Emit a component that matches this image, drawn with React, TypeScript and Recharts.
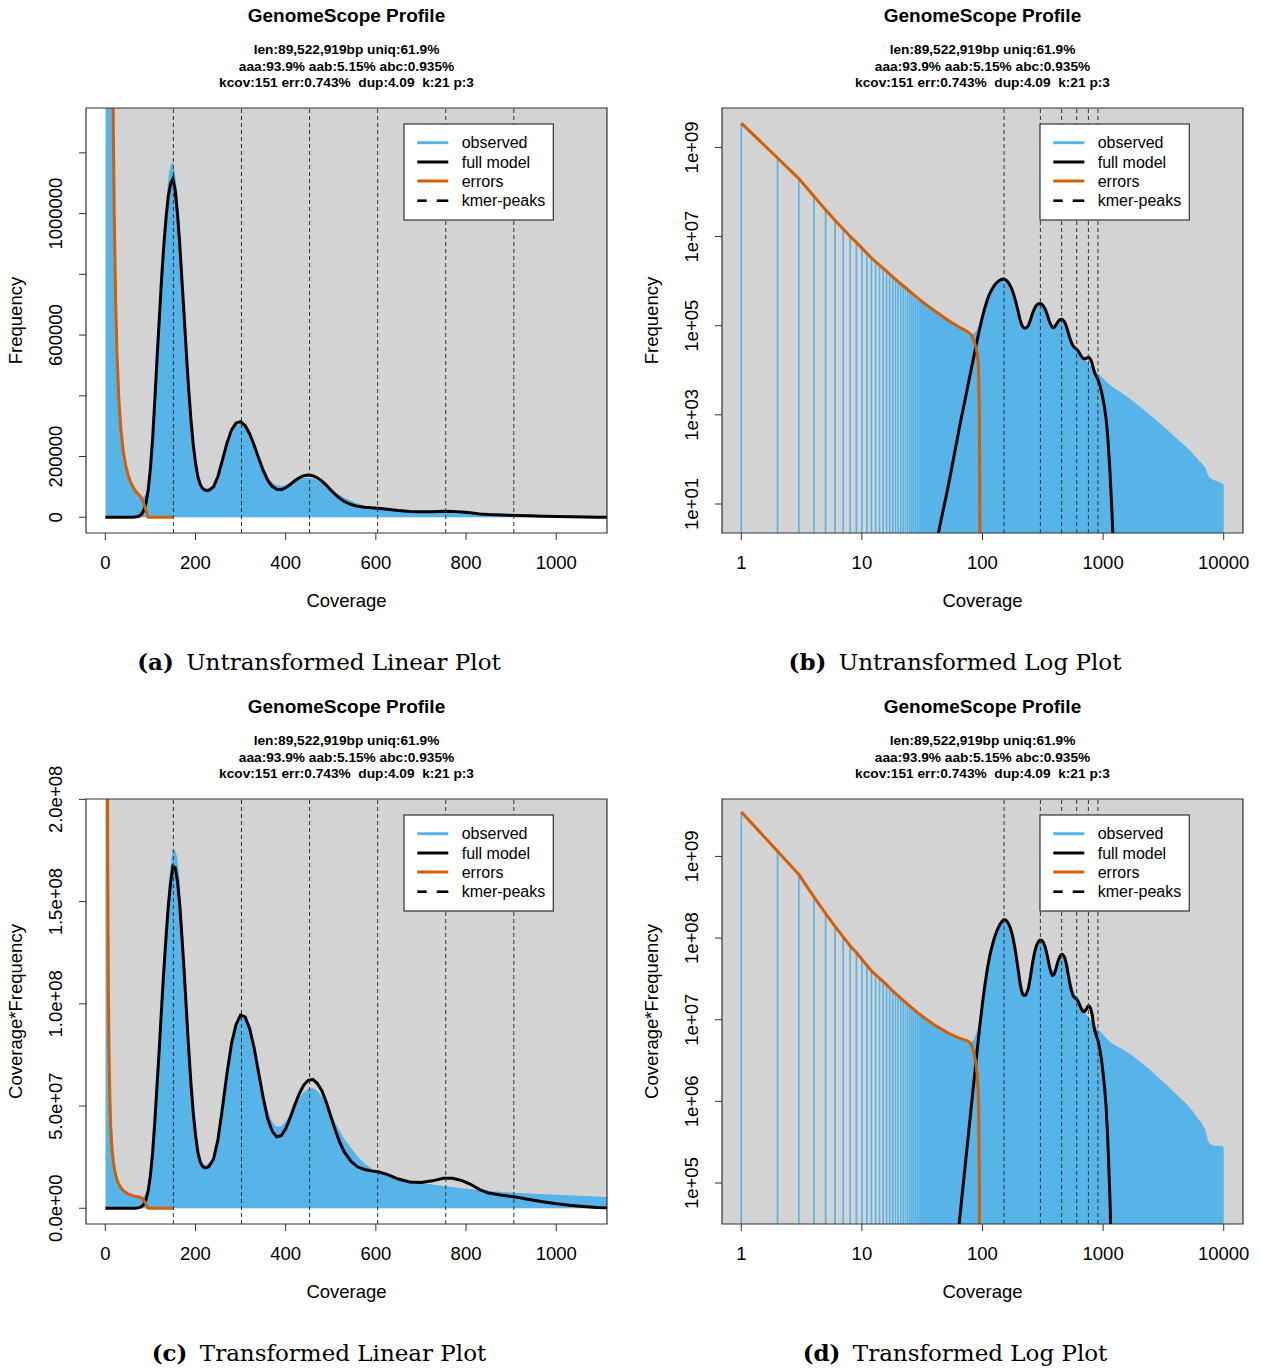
import React from "react";
import { Area, ComposedChart, Line, ReferenceArea, ReferenceLine, XAxis, YAxis } from "recharts";

const BLUE = "#56B4E9";
const ORANGE = "#D55E00";
const GREY_BG = "#D3D3D3";
const INK = "#333";
const SANS = "'Liberation Sans', Arial, Helvetica, sans-serif";
const SERIF = "'DejaVu Serif', 'Liberation Serif', serif";

// k-mer histogram (coverage -> count)
const obsCoverage = [
  1, 2, 3, 4, 5, 6, 7, 8, 9, 10, 11, 12, 13, 14, 15, 16, 17, 18, 19, 20, 21, 22, 23, 24, 25, 26, 27, 28, 29, 30,
  35, 40, 45, 50, 55, 60, 65, 70, 75, 80, 85, 90, 95, 100, 105, 110, 115, 120, 125, 130, 135, 140, 145, 150,
  155, 160, 165, 170, 175, 180, 185, 190, 195, 200, 205, 210, 215, 220, 225, 230, 240, 250, 260, 270, 280, 290,
  300, 310, 320, 330, 340, 350, 360, 370, 380, 390, 400, 410, 420, 430, 440, 450, 460, 470, 480, 490, 500, 510,
  520, 530, 545, 560, 575, 590, 605, 625, 650, 675, 700, 725, 750, 775, 800, 850, 900, 950, 1000, 1100, 1200,
  1400, 1700, 2000, 2500, 3000, 3500, 4000, 4500, 5000, 5500, 5800, 6000, 6300, 6500, 6800, 7000, 7200, 7400,
  7600, 7800, 8000, 8300, 8600, 9000, 9300, 9600, 10000,
];
const obsFrequency = [
  3.5e9, 5.8e8, 2.0e8, 8.0e7, 4.0e7, 2.3e7, 1.48e7, 1.0e7, 7.4e6, 5.5e6, 4.2e6, 3.3e6, 2.75e6, 2.3e6, 1.95e6,
  1.68e6, 1.45e6, 1.25e6, 1.1e6, 9.8e5, 8.76e5, 7.87e5, 7.1e5, 6.44e5, 5.86e5, 5.36e5, 4.93e5, 4.56e5, 4.21e5,
  3.91e5,
  2.83e5, 2.16e5, 1.73e5, 1.42e5, 1.2e5, 1.04e5, 9.2e4, 8.2e4, 7.5e4, 6.6e4, 6.7e4, 8.0e4, 1.1e5, 1.7e5,
  2.75e5, 4.05e5, 5.45e5, 6.8e5, 8.15e5, 9.35e5, 1.04e6, 1.12e6, 1.16e6, 1.17e6,
  1.13e6, 1.07e6, 9.7e5, 8.35e5, 7.0e5, 5.65e5, 4.4e5, 3.35e5, 2.5e5, 1.9e5, 1.45e5, 1.18e5, 1.03e5, 9.7e4,
  9.5e4, 9.6e4, 1.05e5, 1.34e5, 1.83e5, 2.35e5, 2.78e5, 3.03e5,
  3.1e5, 3.0e5, 2.72e5, 2.36e5, 1.97e5, 1.62e5, 1.33e5, 1.14e5, 1.05e5, 1.03e5, 1.06e5, 1.12e5, 1.19e5,
  1.25e5, 1.29e5, 1.3e5, 1.28e5, 1.22e5, 1.14e5, 1.04e5, 9.3e4, 8.2e4,
  7.3e4, 6.4e4, 5.4e4, 4.5e4, 3.8e4, 3.3e4, 2.95e4, 2.6e4, 2.25e4, 2.0e4, 1.78e4, 1.6e4, 1.45e4, 1.32e4,
  1.2e4, 1.0e4, 8.5e3, 7.5e3, 6.6e3, 5.1e3, 4.2e3,
  3.2e3, 2.2e3, 1.55e3, 950, 620, 430, 310, 235, 180, 140, 118, 108, 92, 86, 72, 66, 55, 45,
  40, 38, 36, 35, 33, 32, 30, 30, 27,
];

// fitted model
const modelCoverage = [
  0, 20, 40, 45, 50, 55, 60, 65, 70, 75, 80, 85, 90, 95, 100, 105, 110, 115, 120, 125, 130, 135, 140, 145, 150,
  155, 160, 165, 170, 175, 180, 185, 190, 195, 200, 205, 210, 215, 220, 225, 230, 240, 250, 260, 270, 280, 290,
  300, 310, 320, 330, 340, 350, 360, 370, 380, 390, 400, 410, 420, 430, 440, 450, 460, 470, 480, 490, 500, 510,
  520, 530, 545, 560, 575, 590, 605, 625, 650, 675, 700, 725, 750, 770, 790, 810, 830, 850, 880, 910, 940, 970,
  1000, 1030, 1060, 1090, 1110, 1140, 1170, 1190, 1210, 1250, 1300,
];
const modelFrequency = [
  0, 0, 0.8, 4, 15, 55, 190, 600, 1600, 4000, 9500, 2.1e4, 4.5e4, 8.8e4, 1.6e5, 2.6e5, 3.9e5, 5.3e5, 6.6e5,
  7.9e5, 9.0e5, 9.9e5, 1.06e6, 1.1e6, 1.115e6,
  1.075e6, 1.0e6, 9.0e5, 7.8e5, 6.6e5, 5.35e5, 4.2e5, 3.2e5, 2.4e5, 1.8e5, 1.35e5, 1.1e5, 9.6e4, 9.0e4, 8.8e4,
  8.9e4, 1.0e5, 1.35e5, 1.9e5, 2.45e5, 2.88e5, 3.1e5,
  3.15e5, 3.02e5, 2.75e5, 2.38e5, 1.95e5, 1.55e5, 1.22e5, 1.02e5, 9.2e4, 9.1e4, 9.7e4, 1.08e5, 1.2e5, 1.3e5,
  1.37e5, 1.39e5, 1.37e5, 1.3e5, 1.2e5, 1.06e5, 9.0e4, 7.5e4,
  6.2e4, 5.2e4, 4.2e4, 3.6e4, 3.3e4, 3.1e4, 2.95e4, 2.65e4, 2.2e4, 1.9e4, 1.8e4, 1.85e4, 1.95e4, 1.9e4, 1.72e4,
  1.45e4, 1.1e4, 8.8e3, 7.2e3, 6.0e3, 4.6e3, 3.3e3,
  2.2e3, 1.4e3, 800, 350, 170, 55, 12.5, 5, 1.5, 0.1, 0,
];

// error k-mers
const errorCoverage = [
  1, 2, 3, 4, 5, 6, 7, 8, 9, 10, 12, 14, 16, 18, 20, 23, 26, 30, 35, 40, 45, 50, 55, 60, 65, 70, 75, 80, 84, 88,
  90, 92, 93, 94, 94.5, 95, 95.5, 100, 151,
];
const errorFrequency = [
  3.5e9, 5.8e8, 2.0e8, 8.0e7, 4.0e7, 2.3e7, 1.48e7, 1.0e7, 7.4e6, 5.5e6, 3.3e6, 2.3e6, 1.68e6, 1.25e6, 9.8e5,
  7.1e5, 5.36e5, 3.91e5, 2.83e5, 2.16e5, 1.73e5, 1.42e5, 1.2e5, 1.035e5, 9.1e4, 8.15e4, 7.35e4, 6.4e4, 5.0e4,
  3.4e4, 2.5e4, 1.5e4, 8.0e3, 1.5e3, 200, 5, 0.5, 0, 0,
];

const peakCoverage = [151, 302, 453, 604, 755, 906];

const summaryLines = [
  "len:89,522,919bp uniq:61.9%",
  "aaa:93.9% aab:5.15% abc:0.935%",
  "kcov:151 err:0.743%  dup:4.09  k:21 p:3",
];

const legendLabels = ["observed", "full model", "errors", "kmer-peaks"];

const linearXTicks = [0, 200, 400, 600, 800, 1000];
const logXTicks = [1, 10, 100, 1000, 10000];
const freqTicks = [0, 200000, 400000, 600000, 800000, 1000000, 1200000];
const freqTickLabels = ["0", "200000", "", "600000", "", "1000000", ""];
const covFreqTicks = [0, 5e7, 1e8, 1.5e8, 2e8];
const covFreqTickLabels = ["0.0e+00", "5.0e+07", "1.0e+08", "1.5e+08", "2.0e+08"];
const logFreqTicks = [1e1, 1e3, 1e5, 1e7, 1e9];
const logFreqTickLabels = ["1e+01", "1e+03", "1e+05", "1e+07", "1e+09"];
const logCovFreqTicks = [1e5, 1e6, 1e7, 1e8, 1e9];
const logCovFreqTickLabels = ["1e+05", "1e+06", "1e+07", "1e+08", "1e+09"];

// histogram bins drawn as separate spikes on log axes
const SPIKE_LAST = 30;

// chart geometry
const CHART_W = 620;
const CHART_H = 600;
const PLOT_LEFT = 86;
const PLOT_RIGHT = 607;
const PLOT_TOP = 108;
const PLOT_BOTTOM = 533;
const X_AXIS_H = 50;
const PANEL_W = 636;
const PANEL_H = 691;

type PanelSpec = {
  tag: string;
  caption: string;
  log: boolean;
  transformed: boolean;
  left: number;
  top: number;
  xDomain: [number, number];
  yDomain: [number, number];
  xTicks: number[];
  yTicks: number[];
  yLabels: string[];
  yTitle: string;
};

const panels: PanelSpec[] = [
  {
    tag: "(a)", caption: "Untransformed Linear Plot", log: false, transformed: false, left: 0, top: 0,
    xDomain: [-42.8, 1112.6], yDomain: [-51850, 1347800], xTicks: linearXTicks,
    yTicks: freqTicks, yLabels: freqTickLabels, yTitle: "Frequency",
  },
  {
    tag: "(b)", caption: "Untransformed Log Plot", log: true, transformed: false, left: PANEL_W, top: 0,
    xDomain: [0.692, 14454], yDomain: [2.236, 7.66e9], xTicks: logXTicks,
    yTicks: logFreqTicks, yLabels: logFreqTickLabels, yTitle: "Frequency",
  },
  {
    tag: "(c)", caption: "Transformed Linear Plot", log: false, transformed: true, left: 0, top: PANEL_H,
    xDomain: [-42.8, 1112.6], yDomain: [-7.7e6, 2.002e8], xTicks: linearXTicks,
    yTicks: covFreqTicks, yLabels: covFreqTickLabels, yTitle: "Coverage*Frequency",
  },
  {
    tag: "(d)", caption: "Transformed Log Plot", log: true, transformed: true, left: PANEL_W, top: PANEL_H,
    xDomain: [0.692, 14454], yDomain: [3.15e4, 5.05e9], xTicks: logXTicks,
    yTicks: logCovFreqTicks, yLabels: logCovFreqTickLabels, yTitle: "Coverage*Frequency",
  },
];

function series(p: PanelSpec, cov: number[], freq: number[]) {
  return cov
    .map((x, i) => ({ x, y: p.transformed ? x * freq[i] : freq[i] }))
    .filter((d) => !p.log || d.y > 0);
}

function XTick(props: any) {
  const { x, y, payload } = props;
  return (
    <text x={x} y={y + 28.5} textAnchor="middle" fontSize={18.5} fontFamily={SANS} fill="#000">
      {String(payload.value)}
    </text>
  );
}

function makeYTick(ticks: number[], labels: string[]) {
  return (props: any) => {
    const { x, y, payload } = props;
    const i = ticks.findIndex((t) => Math.abs(t - payload.value) <= Math.abs(t) * 1e-9);
    const label = i >= 0 ? labels[i] : "";
    if (!label) return <g />;
    const tx = x - 16.5;
    return (
      <text x={tx} y={y} transform={`rotate(-90 ${tx} ${y})`} textAnchor="middle" fontSize={18.5} fontFamily={SANS} fill="#000">
        {label}
      </text>
    );
  };
}

function Overlay({ p }: { p: PanelSpec }) {
  const cx = (PLOT_LEFT + PLOT_RIGHT) / 2;
  const cy = (PLOT_TOP + PLOT_BOTTOM) / 2;
  const lx = 404;
  const ly = 124;
  const rows = [18.7, 38, 57, 76.7];
  const swatch = [BLUE, "#000", ORANGE];
  return (
    <svg width={PANEL_W} height={PANEL_H} style={{ position: "absolute", left: 0, top: 0, pointerEvents: "none", overflow: "visible" }}>
      <text x={cx} y={22} textAnchor="middle" fontFamily={SANS} fontWeight="bold" fontSize={19}>
        GenomeScope Profile
      </text>
      {summaryLines.map((s, i) => (
        <text key={s} x={cx} y={54 + i * 16.5} textAnchor="middle" fontFamily={SANS} fontWeight="bold" fontSize={13.7} style={{ whiteSpace: "pre" }}>
          {s}
        </text>
      ))}
      <text x={22} y={cy} transform={`rotate(-90 22 ${cy})`} textAnchor="middle" fontFamily={SANS} fontSize={18.5}>
        {p.yTitle}
      </text>
      <text x={cx} y={606.5} textAnchor="middle" fontFamily={SANS} fontSize={18.5}>
        Coverage
      </text>
      <rect x={lx} y={ly} width={149.3} height={96} fill="#fff" stroke={INK} strokeWidth={1.2} />
      {legendLabels.map((label, i) => (
        <g key={label}>
          {i < 3 ? (
            <line x1={lx + 13.3} x2={lx + 44.3} y1={ly + rows[i]} y2={ly + rows[i]} stroke={swatch[i]} strokeWidth={3} />
          ) : (
            <g stroke="#000" strokeWidth={2.6}>
              <line x1={lx + 13.3} x2={lx + 22.7} y1={ly + rows[i]} y2={ly + rows[i]} />
              <line x1={lx + 32.7} x2={lx + 44.3} y1={ly + rows[i]} y2={ly + rows[i]} />
            </g>
          )}
          <text x={lx + 57.7} y={ly + rows[i] + 5.6} fontFamily={SANS} fontSize={16}>
            {label}
          </text>
        </g>
      ))}
      <text x={319} y={670} textAnchor="middle" fontFamily={SERIF} fontSize={23} style={{ whiteSpace: "pre" }}>
        <tspan fontWeight="bold">{p.tag}</tspan>
        <tspan dx={5}> {p.caption}</tspan>
      </text>
    </svg>
  );
}

function GenomePanel({ p }: { p: PanelSpec }) {
  const observed = series(p, obsCoverage, obsFrequency);
  const model = series(p, modelCoverage, modelFrequency);
  const errors = series(p, errorCoverage, errorFrequency);
  const spikes = p.log ? observed.filter((d) => d.x <= SPIKE_LAST) : [];
  const filled = p.log ? observed.filter((d) => d.x >= SPIKE_LAST) : observed;
  const scale = p.log ? "log" : "linear";
  const [x0, x1] = p.xDomain;
  const [y0, y1] = p.yDomain;

  return (
    <div style={{ position: "absolute", left: p.left, top: p.top, width: PANEL_W, height: PANEL_H }}>
      <ComposedChart
        width={CHART_W}
        height={CHART_H}
        margin={{ top: PLOT_TOP, right: CHART_W - PLOT_RIGHT, bottom: CHART_H - PLOT_BOTTOM - X_AXIS_H, left: 0 }}
      >
        <XAxis
          type="number"
          dataKey="x"
          scale={scale}
          domain={p.xDomain}
          allowDataOverflow
          ticks={p.xTicks}
          interval={0}
          height={X_AXIS_H}
          tickSize={7}
          tickMargin={0}
          axisLine={false}
          tickLine={{ stroke: INK }}
          tick={XTick}
        />
        <YAxis
          type="number"
          dataKey="y"
          scale={scale}
          domain={p.yDomain}
          allowDataOverflow
          ticks={p.yTicks}
          interval={0}
          width={PLOT_LEFT}
          tickSize={7}
          tickMargin={0}
          axisLine={false}
          tickLine={{ stroke: INK }}
          tick={makeYTick(p.yTicks, p.yLabels)}
        />
        {/* grey panel: whole plot on log axes, positive quadrant on linear axes */}
        <ReferenceArea
          x1={p.log ? x0 : 0}
          x2={x1}
          y1={p.log ? y0 : 0}
          y2={y1}
          fill={GREY_BG}
          fillOpacity={1}
          stroke="none"
          zIndex={-50}
        />
        <Area
          data={filled}
          dataKey="y"
          type="linear"
          fill={BLUE}
          fillOpacity={1}
          stroke="none"
          baseValue={p.log ? "dataMin" : undefined}
          isAnimationActive={false}
        />
        {spikes.map((d) => (
          <ReferenceLine
            key={d.x}
            segment={[{ x: d.x, y: y0 }, { x: d.x, y: d.y }]}
            stroke={BLUE}
            strokeWidth={1.7}
            zIndex={150}
          />
        ))}
        <Line data={model} dataKey="y" type="linear" stroke="#000" strokeWidth={3} dot={false} isAnimationActive={false} />
        <Line data={errors} dataKey="y" type="linear" stroke={ORANGE} strokeWidth={3} dot={false} isAnimationActive={false} />
        {peakCoverage.map((c) => (
          <ReferenceLine key={c} x={c} stroke={INK} strokeWidth={1} strokeDasharray="4 3" zIndex={450} />
        ))}
        <ReferenceArea x1={x0} x2={x1} y1={y0} y2={y1} fill="none" stroke={INK} strokeWidth={1.2} zIndex={900} />
      </ComposedChart>
      <Overlay p={p} />
    </div>
  );
}

export default function App() {
  return (
    <div style={{ position: "absolute", left: 0, top: 0, width: 1261, height: 1370, background: "#fff" }}>
      {panels.map((p) => (
        <GenomePanel key={p.tag} p={p} />
      ))}
    </div>
  );
}
